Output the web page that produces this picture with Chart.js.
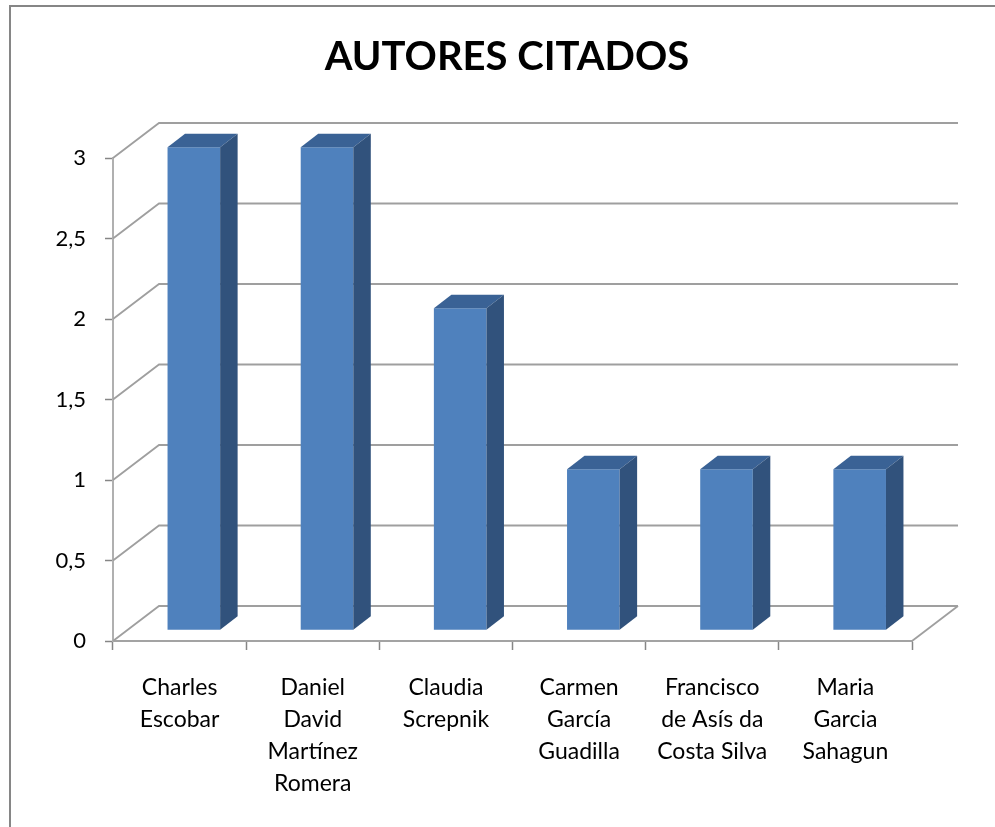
<!DOCTYPE html>
<html>
<head>
<meta charset="utf-8">
<script src="https://cdn.jsdelivr.net/npm/chart.js@4"></script>
<style>
  body { margin: 0; background: #fff; }
  #wrap { width: 995px; height: 827px; }
</style>
</head>
<body>
<div id="wrap"><canvas id="grafico"></canvas></div>
<script>
const autores = [
  ["Charles", "Escobar"],
  ["Daniel", "David", "Martínez", "Romera"],
  ["Claudia", "Screpnik"],
  ["Carmen", "García", "Guadilla"],
  ["Francisco", "de Asís da", "Costa Silva"],
  ["Maria", "Garcia", "Sahagun"],
];
const citas = [3, 3, 2, 1, 1, 1];
const marcasY = [0, 0.5, 1, 1.5, 2, 2.5, 3];

// profundidad del "3D": pared del fondo y columnas
const fondo = { dx: 46, dy: -35 };
const frente = { dx: fondo.dx * 0.31, dy: fondo.dy * 0.31 };
const caja = { dx: fondo.dx * 0.38, dy: fondo.dy * 0.38 };

const colorFrente = "#4F81BD";
const colorLado = "#31527C";
const colorArriba = "#3A6295";
const colorRejilla = "#9f9f9f";

const efecto3d = {
  id: "efecto3d",
  beforeDraw(chart) {
    const ctx = chart.ctx;
    ctx.save();
    ctx.strokeStyle = "#868686";
    ctx.lineWidth = 2;
    ctx.beginPath();
    ctx.moveTo(995, 6);
    ctx.lineTo(10, 6);
    ctx.lineTo(10, 827);
    ctx.stroke();
    ctx.restore();
  },
  beforeDatasetsDraw(chart) {
    const ctx = chart.ctx;
    const a = chart.chartArea;
    const y = chart.scales.y;
    ctx.save();
    ctx.strokeStyle = colorRejilla;
    ctx.lineWidth = 1.8;
    marcasY.forEach((v) => {
      const py = y.getPixelForValue(v);
      ctx.beginPath();
      ctx.moveTo(a.left, py);
      ctx.lineTo(a.left + fondo.dx, py + fondo.dy);
      ctx.lineTo(a.right + fondo.dx, py + fondo.dy);
      ctx.stroke();
    });
    const p0 = y.getPixelForValue(0);
    ctx.beginPath();
    ctx.moveTo(a.right, p0);
    ctx.lineTo(a.right + fondo.dx, p0 + fondo.dy);
    ctx.stroke();
    ctx.restore();
    ctx.save();
    ctx.translate(frente.dx, frente.dy);
  },
  afterDatasetsDraw(chart) {
    const ctx = chart.ctx;
    ctx.restore();
    const barras = chart.getDatasetMeta(0).data;
    ctx.save();
    ctx.translate(frente.dx, frente.dy);
    barras.forEach((b) => {
      const x0 = b.x - b.width / 2;
      const x1 = b.x + b.width / 2;
      const yt = b.y;
      const yb = b.base;
      ctx.fillStyle = colorArriba;
      ctx.beginPath();
      ctx.moveTo(x0, yt);
      ctx.lineTo(x1, yt);
      ctx.lineTo(x1 + caja.dx, yt + caja.dy);
      ctx.lineTo(x0 + caja.dx, yt + caja.dy);
      ctx.closePath();
      ctx.fill();
      ctx.fillStyle = colorLado;
      ctx.beginPath();
      ctx.moveTo(x1, yt);
      ctx.lineTo(x1 + caja.dx, yt + caja.dy);
      ctx.lineTo(x1 + caja.dx, yb + caja.dy);
      ctx.lineTo(x1, yb);
      ctx.closePath();
      ctx.fill();
    });
    ctx.restore();
  },
};

const ctx = document.getElementById("grafico").getContext("2d");
const grafico = new Chart(ctx, {
  type: "bar",
  data: {
    labels: autores,
    datasets: [
      {
        data: citas,
        backgroundColor: colorFrente,
        borderWidth: 0,
        barPercentage: 0.395,
        categoryPercentage: 1,
        clip: false,
      },
    ],
  },
  options: {
    responsive: true,
    maintainAspectRatio: false,
    animation: false,
    layout: { padding: { left: 19, right: 0, top: 0, bottom: 0 } },
    plugins: {
      legend: { display: false },
      tooltip: { enabled: false },
      title: {
        display: true,
        text: "AUTORES CITADOS",
        color: "#000",
        font: { family: "Lato", size: 40, weight: "bold", lineHeight: 1.2 },
        padding: { top: 33, bottom: 77 },
      },
    },
    scales: {
      x: {
        offset: true,
        afterFit(scale) {
          scale.height = 186;
        },
        grid: {
          offset: true,
          drawOnChartArea: false,
          tickLength: 9,
          tickColor: "#868686",
          tickWidth: 1.5,
        },
        border: { display: true, color: "#a3a3a3", width: 2 },
        ticks: {
          color: "#000",
          padding: 21,
          maxRotation: 0,
          autoSkip: false,
          font: { family: "Lato", size: 23, lineHeight: 1.4 },
        },
      },
      y: {
        min: 0,
        max: 3,
        afterFit(scale) {
          scale.width = 94;
        },
        afterBuildTicks(scale) {
          scale.ticks = marcasY.map((v) => ({ value: v }));
        },
        grid: {
          drawOnChartArea: false,
          tickLength: 8,
          tickColor: "#868686",
          tickWidth: 1.5,
        },
        border: { display: true, color: "#b0b0b0", width: 2 },
        ticks: {
          color: "#000",
          padding: 19,
          font: { family: "Lato", size: 22 },
          callback: (v) => String(v).replace(".", ","),
        },
      },
      // eje vacío a la derecha: deja sitio a la pared del fondo
      derecha: {
        type: "linear",
        position: "right",
        afterFit(scale) {
          scale.width = 83;
        },
        grid: { display: false },
        border: { display: false },
        ticks: { display: false },
      },
    },
  },
  plugins: [efecto3d],
});
</script>
</body>
</html>
